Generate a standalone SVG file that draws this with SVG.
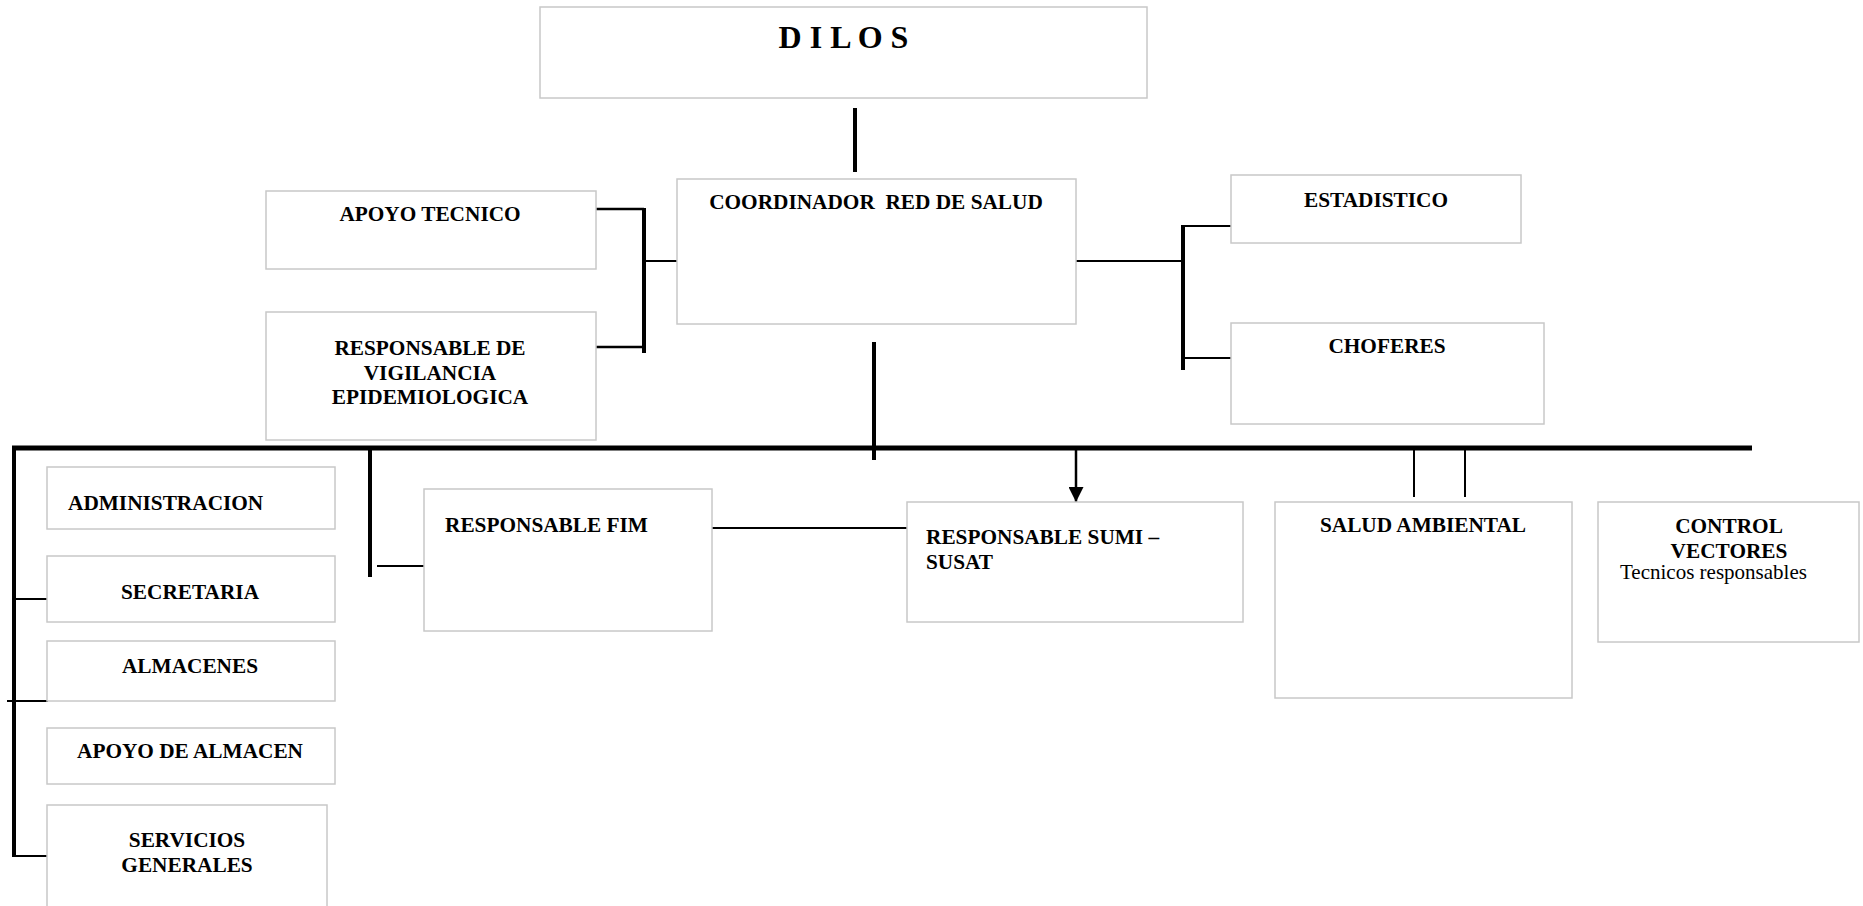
<svg xmlns="http://www.w3.org/2000/svg" width="1863" height="906" viewBox="0 0 1863 906">
<style>
.box{fill:#fff;stroke:#c8c8c8;stroke-width:1.5}
.t{font-family:"Liberation Serif","Times New Roman",serif;font-weight:bold;font-size:21.3px;fill:#000}
.n{font-family:"Liberation Serif","Times New Roman",serif;font-size:21px;fill:#000}
.c{text-anchor:middle}
.thin{stroke:#000;stroke-width:2;fill:none}
.mid{stroke:#000;stroke-width:2.5;fill:none}
.thick{stroke:#000;stroke-width:4;fill:none}
.main{stroke:#000;stroke-width:5;fill:none}
</style>
<defs>
<marker id="arr" viewBox="0 0 10 10" refX="10" refY="5" markerWidth="15" markerHeight="15" markerUnits="userSpaceOnUse" orient="auto">
<path d="M0,0 L10,5 L0,10 z" fill="#000"/>
</marker>
</defs>
<rect width="1863" height="906" fill="#fff"/>
<g id="connectors">
<line class="thick" x1="855" y1="108" x2="855" y2="172"/>
<line class="mid" x1="596" y1="209" x2="644" y2="209"/>
<line class="mid" x1="596" y1="347" x2="644" y2="347"/>
<line class="thick" x1="644" y1="208" x2="644" y2="353"/>
<line class="thin" x1="644" y1="261" x2="677" y2="261"/>
<line class="thin" x1="1076" y1="261" x2="1183" y2="261"/>
<line class="thick" x1="1183" y1="225" x2="1183" y2="370"/>
<line class="thin" x1="1183" y1="226" x2="1231" y2="226"/>
<line class="thin" x1="1183" y1="358" x2="1231" y2="358"/>
<line class="thick" x1="874" y1="342" x2="874" y2="460"/>
<line class="main" x1="12" y1="448" x2="1752" y2="448"/>
<line class="thick" x1="14" y1="446" x2="14" y2="857"/>
<line class="thin" x1="14" y1="599" x2="47" y2="599"/>
<line class="thin" x1="7" y1="701" x2="48" y2="701"/>
<line class="thin" x1="14" y1="856" x2="47" y2="856"/>
<line class="thick" x1="370" y1="448" x2="370" y2="577"/>
<line class="thin" x1="377" y1="566" x2="424" y2="566"/>
<line class="thin" x1="712" y1="528" x2="907" y2="528"/>
<line class="mid" x1="1076" y1="448" x2="1076" y2="502" marker-end="url(#arr)"/>
<line class="thin" x1="1414" y1="448" x2="1414" y2="497"/>
<line class="thin" x1="1465" y1="448" x2="1465" y2="497"/>
</g>
<g id="dilos">
<rect class="box" x="540" y="7" width="607" height="91"/>
<text class="t c" x="843.5" y="48" style="font-size:32px">D I L O S</text>
</g>
<g id="apoyo-tecnico">
<rect class="box" x="266" y="191" width="330" height="78"/>
<text class="t c" x="430" y="221">APOYO TECNICO</text>
</g>
<g id="vigilancia">
<rect class="box" x="266" y="312" width="330" height="128"/>
<text class="t c" x="430" y="355">RESPONSABLE DE</text>
<text class="t c" x="430" y="380">VIGILANCIA</text>
<text class="t c" x="430" y="404">EPIDEMIOLOGICA</text>
</g>
<g id="coordinador">
<rect class="box" x="677" y="179" width="399" height="145"/>
<text class="t c" x="876" y="209" xml:space="preserve">COORDINADOR  RED DE SALUD</text>
</g>
<g id="estadistico">
<rect class="box" x="1231" y="175" width="290" height="68"/>
<text class="t c" x="1376" y="207">ESTADISTICO</text>
</g>
<g id="choferes">
<rect class="box" x="1231" y="323" width="313" height="101"/>
<text class="t c" x="1387" y="353">CHOFERES</text>
</g>
<g id="administracion">
<rect class="box" x="47" y="467" width="288" height="62"/>
<text class="t" x="68" y="510">ADMINISTRACION</text>
</g>
<g id="secretaria">
<rect class="box" x="47" y="556" width="288" height="66"/>
<text class="t c" x="190" y="599">SECRETARIA</text>
</g>
<g id="almacenes">
<rect class="box" x="47" y="641" width="288" height="60"/>
<text class="t c" x="190" y="673">ALMACENES</text>
</g>
<g id="apoyo-almacen">
<rect class="box" x="47" y="728" width="288" height="56"/>
<text class="t c" x="190" y="758">APOYO DE ALMACEN</text>
</g>
<g id="servicios-generales">
<rect class="box" x="47" y="805" width="280" height="110"/>
<text class="t c" x="187" y="847">SERVICIOS</text>
<text class="t c" x="187" y="872">GENERALES</text>
</g>
<g id="fim">
<rect class="box" x="424" y="489" width="288" height="142"/>
<text class="t" x="445" y="532">RESPONSABLE FIM</text>
</g>
<g id="sumi">
<rect class="box" x="907" y="502" width="336" height="120"/>
<text class="t" x="926" y="544">RESPONSABLE SUMI –</text>
<text class="t" x="926" y="569">SUSAT</text>
</g>
<g id="salud-ambiental">
<rect class="box" x="1275" y="502" width="297" height="196"/>
<text class="t c" x="1423" y="532">SALUD AMBIENTAL</text>
</g>
<g id="control-vectores">
<rect class="box" x="1598" y="502" width="261" height="140"/>
<text class="t c" x="1729" y="533">CONTROL</text>
<text class="t c" x="1729" y="558">VECTORES</text>
<text class="n" x="1620" y="579">Tecnicos responsables</text>
</g>
</svg>
